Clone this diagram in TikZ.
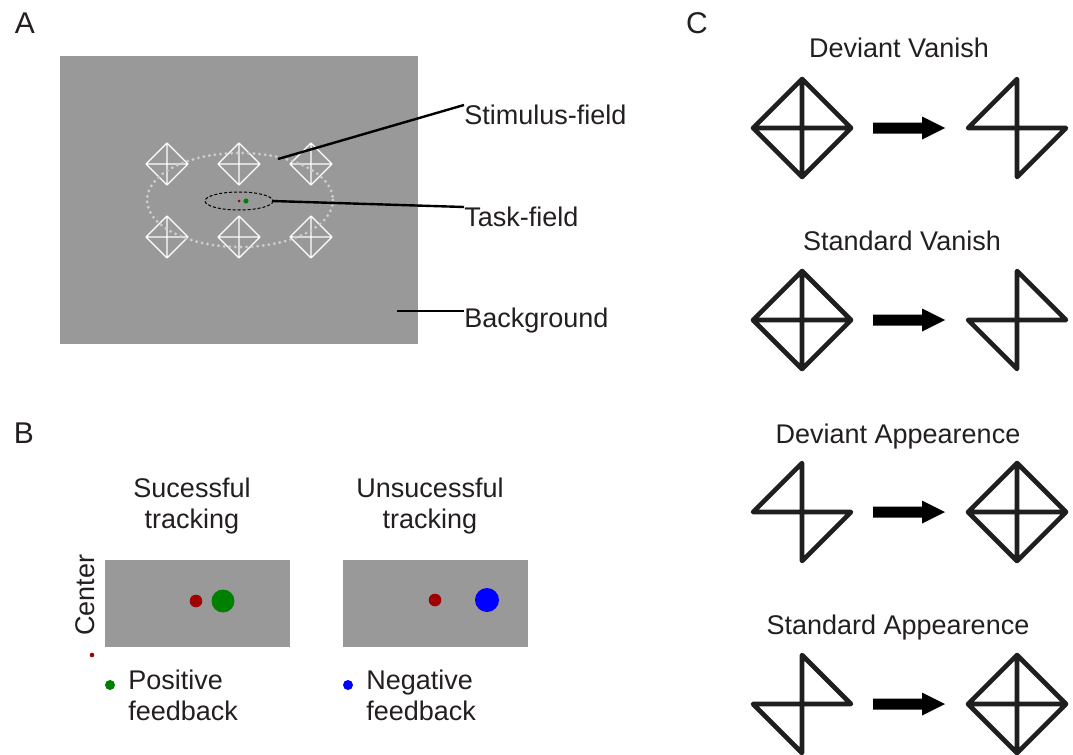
\documentclass[tikz,border=0pt]{standalone}
\usepackage{fontspec}
\setmainfont{Liberation Sans}
\usetikzlibrary{positioning}
\definecolor{panelgray}{RGB}{153,153,153}
\definecolor{ringgray}{RGB}{205,205,205}
\definecolor{dotred}{RGB}{160,0,0}
\definecolor{dotgreen}{RGB}{0,128,0}
\definecolor{textgray}{RGB}{35,31,32}

\begin{document}
\begin{tikzpicture}[x=0.5pt, y=-0.5pt,
        txt/.style={font=\fontsize{13.5}{15.5}\selectfont, text=textgray, inner sep=0pt},
        panel/.style={font=\fontsize{15}{18}\selectfont, text=textgray, inner sep=0pt, anchor=base},
        leader/.style={line width=1.2pt, draw=black},
        symline/.style={line width=2.3pt, line join=round, line cap=round, draw=black!88},
        stimline/.style={line width=0.7pt, draw=white, line join=round},
        stimring/.style={draw=ringgray, line width=1.6pt, line cap=round, dash pattern=on 0pt off 2.8pt},
        taskring/.style={draw=black, line width=0.5pt, dash pattern=on 1.5pt off 1pt},
        fullsym/.pic={\draw[symline] (0,-49) -- (49,0) -- (0,49) -- (-49,0) -- cycle (0,-49) -- (0,49) (-49,0) -- (49,0);},
        halfleft/.pic={\draw[symline] (0,49) -- (0,-49) -- (-49,0) -- (49,0) -- cycle;},
        halfright/.pic={\draw[symline] (0,49) -- (0,-49) -- (49,0) -- (-49,0) -- cycle;},
        bigarrow/.pic={\fill[black] (-36,-5.5) -- (13,-5.5) -- (13,-11.5) -- (36,0) -- (13,11.5) -- (13,5.5) -- (-36,5.5) -- cycle;},
        stimsym/.pic={\draw[stimline] (0,-21) -- (21,0) -- (0,21) -- (-21,0) -- cycle (0,-21) -- (0,21) (-21,0) -- (21,0);}
    ]
        \useasboundingbox (0,0) rectangle (1073,755);

        % Panel letters
        \node[panel] (labA) at (25,33) {A};
        \node[panel] (labB) at (24,443) {B};
        \node[panel] (labC) at (697,33) {C};

        % A: screen with stimulus field and task field
        \fill[panelgray] (60,56) rectangle (418,344);
        \foreach \x in {167,239,311}
            \foreach \y in {164,237}
                \pic at (\x,\y) {stimsym};
        \draw[stimring] (240,200) ellipse [x radius=93, y radius=47];
        \draw[taskring] (239,201) ellipse [x radius=34, y radius=9];
        \fill[dotred] (239,201) circle (1.5);
        \fill[dotgreen] (246,201) circle (2.6);

        \node[txt, anchor=north west] (stimlabel) at (464,105) {Stimulus-field};
        \node[txt, anchor=north west] (tasklabel) at (464,207) {Task-field};
        \node[txt, anchor=north west] (bglabel) at (464,308) {Background};
        \coordinate (stimpt) at (278,159);
        \coordinate (taskpt) at (272,201);
        \coordinate (bgpt) at (397,311);
        \draw[leader] (stimpt) -- (stimlabel.north west);
        \draw[leader] (taskpt) -- (tasklabel.north west);
        \draw[leader] (bgpt) -- (bgpt -| bglabel.west);

        % B: feedback
        \node[txt, align=center, anchor=north] (succ) at (192,478) {Sucessful\\tracking};
        \node[txt, align=center, anchor=north] (unsucc) at (430,478) {Unsucessful\\tracking};
        \fill[panelgray] (105,560) rectangle (290,647);
        \fill[panelgray] (343,560) rectangle (528,647);
        \fill[dotred] (196,601) circle (6.3);
        \fill[dotgreen] (223,601) circle (11.5);
        \fill[dotred] (435,600) circle (6.3);
        \fill[blue] (487,600) circle (12);
        \node[txt, rotate=90] (center) at (85,595) {Center};
        \fill[dotred] (92,655) circle (2.3);
        \fill[dotgreen] (110,685) circle (5);
        \fill[blue] (348,685) circle (5);
        \node[txt, align=left, anchor=north west] (posfb) at (128,670) {Positive\\feedback};
        \node[txt, align=left, anchor=north west] (negfb) at (366,670) {Negative\\feedback};

        % C: symbol changes
        \node[txt, anchor=base] (devvan) at (899,57) {Deviant Vanish};
        \pic at (802,128) {fullsym};
        \pic at (909,128) {bigarrow};
        \pic at (1017,128) {halfleft};

        \node[txt, anchor=base] (stdvan) at (902,250) {Standard Vanish};
        \pic at (802,320) {fullsym};
        \pic at (909,320) {bigarrow};
        \pic at (1017,320) {halfright};

        \node[txt, anchor=base] (devapp) at (898,443) {Deviant Appearence};
        \pic at (802,512) {halfleft};
        \pic at (909,512) {bigarrow};
        \pic at (1017,512) {fullsym};

        \node[txt, anchor=base] (stdapp) at (898,634) {Standard Appearence};
        \pic at (802,704) {halfright};
        \pic at (909,704) {bigarrow};
        \pic at (1017,704) {fullsym};

    \end{tikzpicture}
\end{document}
